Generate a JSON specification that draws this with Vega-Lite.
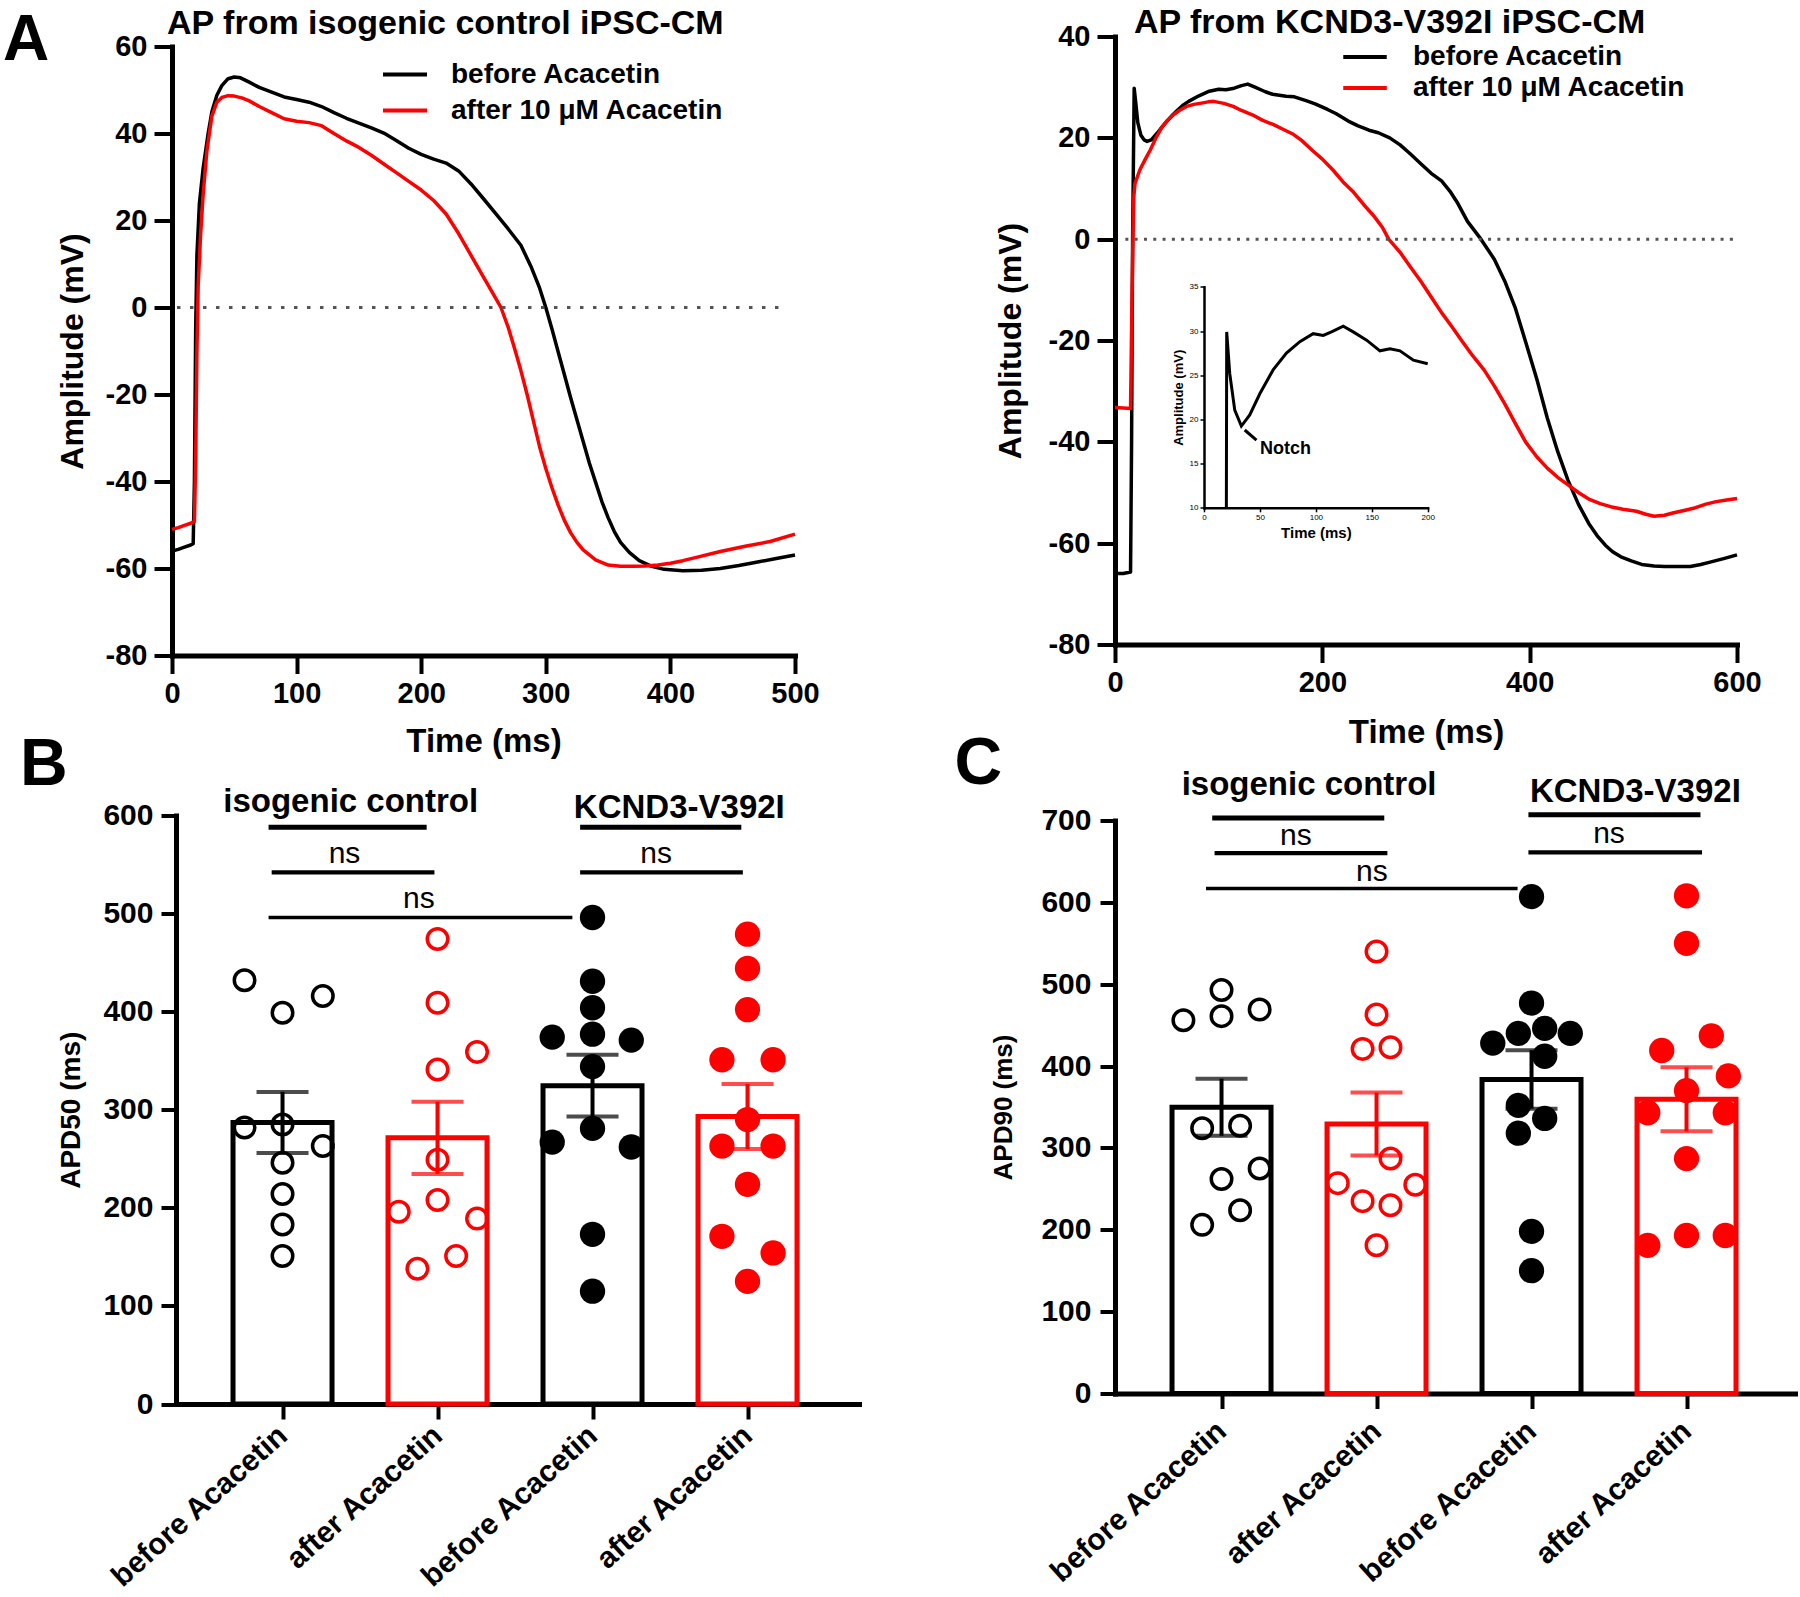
{
  "$schema": "https://vega.github.io/schema/vega-lite/v6.json",
  "background": "white",
  "padding": {"left": 3, "top": 5.5, "right": 0, "bottom": 0},
  "config": {
    "font": "Liberation Sans",
    "view": {"stroke": null},
    "axis": {"grid": false, "domainColor": "#000", "tickColor": "#000", "labelColor": "#000", "titleColor": "#000", "labelFontWeight": "bold", "titleFontWeight": "bold", "domainWidth": 5, "tickWidth": 4, "labelLimit": 400, "labelOverlap": false, "labelFlush": false, "labelBound": false, "domainCap": "square"},
    "legend": {"labelLimit": 500},
    "text": {"color": "#000"}
  },
  "resolve": {"scale": {"color": "independent", "stroke": "independent", "strokeWidth": "independent"}, "legend": {"color": "independent", "stroke": "independent", "strokeWidth": "independent"}},
  "datasets": {
    "apIso": [
      {"s":"before Acacetin","t":0,"v":-56},{"s":"before Acacetin","t":5,"v":-55.6},{"s":"before Acacetin","t":10,"v":-55.1},{"s":"before Acacetin","t":15,"v":-54.6},{"s":"before Acacetin","t":17,"v":-54.3},{"s":"before Acacetin","t":18,"v":-40},{"s":"before Acacetin","t":19,"v":-5},{"s":"before Acacetin","t":20,"v":12},{"s":"before Acacetin","t":22,"v":24},{"s":"before Acacetin","t":25,"v":32},{"s":"before Acacetin","t":29,"v":40},{"s":"before Acacetin","t":32,"v":45},{"s":"before Acacetin","t":36,"v":48.8},{"s":"before Acacetin","t":40,"v":51},{"s":"before Acacetin","t":45,"v":52.6},{"s":"before Acacetin","t":50,"v":53},{"s":"before Acacetin","t":55,"v":52.8},{"s":"before Acacetin","t":62,"v":51.8},{"s":"before Acacetin","t":70,"v":50.6},{"s":"before Acacetin","t":80,"v":49.5},{"s":"before Acacetin","t":90,"v":48.4},{"s":"before Acacetin","t":100,"v":47.8},{"s":"before Acacetin","t":110,"v":47.2},{"s":"before Acacetin","t":120,"v":46.2},{"s":"before Acacetin","t":130,"v":44.8},{"s":"before Acacetin","t":140,"v":43.5},{"s":"before Acacetin","t":150,"v":42.4},{"s":"before Acacetin","t":160,"v":41.3},{"s":"before Acacetin","t":170,"v":40.1},{"s":"before Acacetin","t":180,"v":38.4},{"s":"before Acacetin","t":190,"v":36.6},{"s":"before Acacetin","t":200,"v":35.2},{"s":"before Acacetin","t":210,"v":34.1},{"s":"before Acacetin","t":220,"v":33.2},{"s":"before Acacetin","t":230,"v":31.4},{"s":"before Acacetin","t":240,"v":28.4},{"s":"before Acacetin","t":250,"v":25},{"s":"before Acacetin","t":260,"v":21.5},{"s":"before Acacetin","t":270,"v":18},{"s":"before Acacetin","t":280,"v":14.3},{"s":"before Acacetin","t":288,"v":9.5},{"s":"before Acacetin","t":295,"v":4.5},{"s":"before Acacetin","t":300,"v":0},{"s":"before Acacetin","t":305,"v":-5},{"s":"before Acacetin","t":310,"v":-10.3},{"s":"before Acacetin","t":315,"v":-15.5},{"s":"before Acacetin","t":320,"v":-20.8},{"s":"before Acacetin","t":325,"v":-25.8},{"s":"before Acacetin","t":330,"v":-30.8},{"s":"before Acacetin","t":335,"v":-35.8},{"s":"before Acacetin","t":340,"v":-40.2},{"s":"before Acacetin","t":345,"v":-44.6},{"s":"before Acacetin","t":350,"v":-48.3},{"s":"before Acacetin","t":355,"v":-51.5},{"s":"before Acacetin","t":360,"v":-54},{"s":"before Acacetin","t":367,"v":-56.3},{"s":"before Acacetin","t":375,"v":-58.2},{"s":"before Acacetin","t":385,"v":-59.5},{"s":"before Acacetin","t":395,"v":-60.2},{"s":"before Acacetin","t":410,"v":-60.5},{"s":"before Acacetin","t":425,"v":-60.4},{"s":"before Acacetin","t":440,"v":-60},{"s":"before Acacetin","t":455,"v":-59.3},{"s":"before Acacetin","t":470,"v":-58.5},{"s":"before Acacetin","t":485,"v":-57.7},{"s":"before Acacetin","t":500,"v":-56.9},
      {"s":"after 10 μM Acacetin","t":0,"v":-51},{"s":"after 10 μM Acacetin","t":5,"v":-50.6},{"s":"after 10 μM Acacetin","t":10,"v":-50.1},{"s":"after 10 μM Acacetin","t":15,"v":-49.6},{"s":"after 10 μM Acacetin","t":18,"v":-49.2},{"s":"after 10 μM Acacetin","t":19,"v":-35},{"s":"after 10 μM Acacetin","t":20,"v":-10},{"s":"after 10 μM Acacetin","t":21,"v":5},{"s":"after 10 μM Acacetin","t":23,"v":17},{"s":"after 10 μM Acacetin","t":25,"v":26},{"s":"after 10 μM Acacetin","t":28,"v":36},{"s":"after 10 μM Acacetin","t":32,"v":44},{"s":"after 10 μM Acacetin","t":36,"v":47.2},{"s":"after 10 μM Acacetin","t":40,"v":48.3},{"s":"after 10 μM Acacetin","t":45,"v":48.7},{"s":"after 10 μM Acacetin","t":50,"v":48.6},{"s":"after 10 μM Acacetin","t":56,"v":48.2},{"s":"after 10 μM Acacetin","t":62,"v":47.5},{"s":"after 10 μM Acacetin","t":70,"v":46.2},{"s":"after 10 μM Acacetin","t":80,"v":44.8},{"s":"after 10 μM Acacetin","t":90,"v":43.4},{"s":"after 10 μM Acacetin","t":100,"v":42.8},{"s":"after 10 μM Acacetin","t":110,"v":42.5},{"s":"after 10 μM Acacetin","t":120,"v":41.8},{"s":"after 10 μM Acacetin","t":130,"v":40},{"s":"after 10 μM Acacetin","t":140,"v":38.3},{"s":"after 10 μM Acacetin","t":150,"v":36.8},{"s":"after 10 μM Acacetin","t":160,"v":35},{"s":"after 10 μM Acacetin","t":170,"v":33},{"s":"after 10 μM Acacetin","t":180,"v":31},{"s":"after 10 μM Acacetin","t":190,"v":29},{"s":"after 10 μM Acacetin","t":200,"v":27},{"s":"after 10 μM Acacetin","t":210,"v":24.6},{"s":"after 10 μM Acacetin","t":220,"v":21.5},{"s":"after 10 μM Acacetin","t":230,"v":17},{"s":"after 10 μM Acacetin","t":240,"v":12},{"s":"after 10 μM Acacetin","t":250,"v":7},{"s":"after 10 μM Acacetin","t":258,"v":3},{"s":"after 10 μM Acacetin","t":264,"v":0},{"s":"after 10 μM Acacetin","t":270,"v":-4.7},{"s":"after 10 μM Acacetin","t":275,"v":-9.5},{"s":"after 10 μM Acacetin","t":280,"v":-14.5},{"s":"after 10 μM Acacetin","t":285,"v":-20},{"s":"after 10 μM Acacetin","t":290,"v":-26},{"s":"after 10 μM Acacetin","t":295,"v":-32},{"s":"after 10 μM Acacetin","t":300,"v":-37},{"s":"after 10 μM Acacetin","t":305,"v":-41.5},{"s":"after 10 μM Acacetin","t":310,"v":-45.5},{"s":"after 10 μM Acacetin","t":315,"v":-49},{"s":"after 10 μM Acacetin","t":320,"v":-51.8},{"s":"after 10 μM Acacetin","t":325,"v":-54},{"s":"after 10 μM Acacetin","t":330,"v":-55.7},{"s":"after 10 μM Acacetin","t":340,"v":-58},{"s":"after 10 μM Acacetin","t":350,"v":-59.2},{"s":"after 10 μM Acacetin","t":360,"v":-59.5},{"s":"after 10 μM Acacetin","t":370,"v":-59.5},{"s":"after 10 μM Acacetin","t":380,"v":-59.4},{"s":"after 10 μM Acacetin","t":390,"v":-59.2},{"s":"after 10 μM Acacetin","t":400,"v":-58.8},{"s":"after 10 μM Acacetin","t":410,"v":-58.2},{"s":"after 10 μM Acacetin","t":420,"v":-57.5},{"s":"after 10 μM Acacetin","t":440,"v":-56.1},{"s":"after 10 μM Acacetin","t":460,"v":-54.9},{"s":"after 10 μM Acacetin","t":480,"v":-53.8},{"s":"after 10 μM Acacetin","t":500,"v":-52.1}
    ],
    "apKcnd": [
      {"s":"before Acacetin","t":0,"v":-66},{"s":"before Acacetin","t":8,"v":-66},{"s":"before Acacetin","t":15,"v":-65.7},{"s":"before Acacetin","t":16,"v":-40},{"s":"before Acacetin","t":17,"v":0},{"s":"before Acacetin","t":18.5,"v":29.8},{"s":"before Acacetin","t":20,"v":27},{"s":"before Acacetin","t":22,"v":23},{"s":"before Acacetin","t":25,"v":20.5},{"s":"before Acacetin","t":28,"v":19.6},{"s":"before Acacetin","t":31,"v":19.3},{"s":"before Acacetin","t":35,"v":19.6},{"s":"before Acacetin","t":41,"v":21},{"s":"before Acacetin","t":46,"v":22.3},{"s":"before Acacetin","t":51,"v":23.5},{"s":"before Acacetin","t":56,"v":24.6},{"s":"before Acacetin","t":61,"v":25.6},{"s":"before Acacetin","t":66,"v":26.5},{"s":"before Acacetin","t":71,"v":27.2},{"s":"before Acacetin","t":81,"v":28.3},{"s":"before Acacetin","t":91,"v":29.2},{"s":"before Acacetin","t":100,"v":29.6},{"s":"before Acacetin","t":107,"v":29.5},{"s":"before Acacetin","t":115,"v":29.8},{"s":"before Acacetin","t":122,"v":30.3},{"s":"before Acacetin","t":128,"v":30.6},{"s":"before Acacetin","t":135,"v":30},{"s":"before Acacetin","t":145,"v":29.1},{"s":"before Acacetin","t":152,"v":28.6},{"s":"before Acacetin","t":165,"v":28.2},{"s":"before Acacetin","t":173,"v":28.1},{"s":"before Acacetin","t":185,"v":27.3},{"s":"before Acacetin","t":193,"v":26.7},{"s":"before Acacetin","t":205,"v":25.6},{"s":"before Acacetin","t":213,"v":24.8},{"s":"before Acacetin","t":225,"v":23.3},{"s":"before Acacetin","t":234,"v":22.4},{"s":"before Acacetin","t":245,"v":21.5},{"s":"before Acacetin","t":254,"v":21},{"s":"before Acacetin","t":265,"v":20},{"s":"before Acacetin","t":275,"v":18.6},{"s":"before Acacetin","t":285,"v":16.8},{"s":"before Acacetin","t":295,"v":14.9},{"s":"before Acacetin","t":305,"v":13},{"s":"before Acacetin","t":315,"v":11.5},{"s":"before Acacetin","t":323,"v":9.5},{"s":"before Acacetin","t":330,"v":7.3},{"s":"before Acacetin","t":340,"v":3.5},{"s":"before Acacetin","t":353,"v":0},{"s":"before Acacetin","t":366,"v":-4},{"s":"before Acacetin","t":376,"v":-8.3},{"s":"before Acacetin","t":386,"v":-13.5},{"s":"before Acacetin","t":396,"v":-20.2},{"s":"before Acacetin","t":407,"v":-27.7},{"s":"before Acacetin","t":417,"v":-35.3},{"s":"before Acacetin","t":427,"v":-41.9},{"s":"before Acacetin","t":437,"v":-47.6},{"s":"before Acacetin","t":447,"v":-52.3},{"s":"before Acacetin","t":457,"v":-56.1},{"s":"before Acacetin","t":465,"v":-58.5},{"s":"before Acacetin","t":473,"v":-60.4},{"s":"before Acacetin","t":480,"v":-61.7},{"s":"before Acacetin","t":488,"v":-62.7},{"s":"before Acacetin","t":498,"v":-63.5},{"s":"before Acacetin","t":508,"v":-64.2},{"s":"before Acacetin","t":520,"v":-64.5},{"s":"before Acacetin","t":530,"v":-64.6},{"s":"before Acacetin","t":545,"v":-64.6},{"s":"before Acacetin","t":555,"v":-64.6},{"s":"before Acacetin","t":565,"v":-64.2},{"s":"before Acacetin","t":575,"v":-63.7},{"s":"before Acacetin","t":588,"v":-63},{"s":"before Acacetin","t":600,"v":-62.3},
      {"s":"after 10 μM Acacetin","t":0,"v":-33.2},{"s":"after 10 μM Acacetin","t":8,"v":-33.3},{"s":"after 10 μM Acacetin","t":15,"v":-33.4},{"s":"after 10 μM Acacetin","t":16.5,"v":-10},{"s":"after 10 μM Acacetin","t":18,"v":8},{"s":"after 10 μM Acacetin","t":19.3,"v":11},{"s":"after 10 μM Acacetin","t":24,"v":13.7},{"s":"after 10 μM Acacetin","t":29,"v":15.7},{"s":"after 10 μM Acacetin","t":34,"v":17.6},{"s":"after 10 μM Acacetin","t":40,"v":20.2},{"s":"after 10 μM Acacetin","t":45,"v":22},{"s":"after 10 μM Acacetin","t":50,"v":23.3},{"s":"after 10 μM Acacetin","t":56,"v":24.5},{"s":"after 10 μM Acacetin","t":62,"v":25.4},{"s":"after 10 μM Acacetin","t":69,"v":26.2},{"s":"after 10 μM Acacetin","t":76,"v":26.6},{"s":"after 10 μM Acacetin","t":82,"v":26.8},{"s":"after 10 μM Acacetin","t":90,"v":27.1},{"s":"after 10 μM Acacetin","t":95,"v":27.2},{"s":"after 10 μM Acacetin","t":105,"v":26.8},{"s":"after 10 μM Acacetin","t":114,"v":26.2},{"s":"after 10 μM Acacetin","t":122,"v":25.4},{"s":"after 10 μM Acacetin","t":133,"v":24.5},{"s":"after 10 μM Acacetin","t":142,"v":23.5},{"s":"after 10 μM Acacetin","t":153,"v":22.6},{"s":"after 10 μM Acacetin","t":163,"v":21.6},{"s":"after 10 μM Acacetin","t":172,"v":20.7},{"s":"after 10 μM Acacetin","t":180,"v":19.5},{"s":"after 10 μM Acacetin","t":191,"v":17.4},{"s":"after 10 μM Acacetin","t":200,"v":15.8},{"s":"after 10 μM Acacetin","t":210,"v":13.7},{"s":"after 10 μM Acacetin","t":220,"v":11.3},{"s":"after 10 μM Acacetin","t":230,"v":9.3},{"s":"after 10 μM Acacetin","t":240,"v":6.8},{"s":"after 10 μM Acacetin","t":250,"v":4.5},{"s":"after 10 μM Acacetin","t":258,"v":2.3},{"s":"after 10 μM Acacetin","t":264,"v":0},{"s":"after 10 μM Acacetin","t":275,"v":-2.6},{"s":"after 10 μM Acacetin","t":285,"v":-5.5},{"s":"after 10 μM Acacetin","t":295,"v":-8.3},{"s":"after 10 μM Acacetin","t":305,"v":-11.4},{"s":"after 10 μM Acacetin","t":315,"v":-14.5},{"s":"after 10 μM Acacetin","t":325,"v":-17.3},{"s":"after 10 μM Acacetin","t":335,"v":-20.2},{"s":"after 10 μM Acacetin","t":345,"v":-23},{"s":"after 10 μM Acacetin","t":356,"v":-25.8},{"s":"after 10 μM Acacetin","t":366,"v":-29},{"s":"after 10 μM Acacetin","t":376,"v":-32.5},{"s":"after 10 μM Acacetin","t":386,"v":-36.3},{"s":"after 10 μM Acacetin","t":396,"v":-40},{"s":"after 10 μM Acacetin","t":407,"v":-43},{"s":"after 10 μM Acacetin","t":417,"v":-45.2},{"s":"after 10 μM Acacetin","t":427,"v":-47},{"s":"after 10 μM Acacetin","t":437,"v":-48.5},{"s":"after 10 μM Acacetin","t":447,"v":-50},{"s":"after 10 μM Acacetin","t":457,"v":-51.3},{"s":"after 10 μM Acacetin","t":468,"v":-52.2},{"s":"after 10 μM Acacetin","t":478,"v":-52.8},{"s":"after 10 μM Acacetin","t":490,"v":-53.3},{"s":"after 10 μM Acacetin","t":503,"v":-53.7},{"s":"after 10 μM Acacetin","t":512,"v":-54.3},{"s":"after 10 μM Acacetin","t":520,"v":-54.7},{"s":"after 10 μM Acacetin","t":530,"v":-54.5},{"s":"after 10 μM Acacetin","t":539,"v":-54},{"s":"after 10 μM Acacetin","t":550,"v":-53.5},{"s":"after 10 μM Acacetin","t":560,"v":-53},{"s":"after 10 μM Acacetin","t":570,"v":-52.3},{"s":"after 10 μM Acacetin","t":580,"v":-51.8},{"s":"after 10 μM Acacetin","t":590,"v":-51.5},{"s":"after 10 μM Acacetin","t":600,"v":-51.2}
    ],
    "inset": [
      {"t":20,"v":10},{"t":20.3,"v":29.9},{"t":23,"v":25.2},{"t":27.5,"v":21.05},{"t":33.4,"v":19.24},{"t":40.9,"v":20.5},{"t":49.9,"v":22.9},{"t":61.8,"v":25.6},{"t":73.7,"v":27.5},{"t":85.7,"v":28.8},{"t":97.6,"v":29.7},{"t":106.6,"v":29.5},{"t":114,"v":29.9},{"t":124.5,"v":30.55},{"t":133.4,"v":29.9},{"t":145.4,"v":28.97},{"t":157.3,"v":27.76},{"t":166.3,"v":28.0},{"t":175.2,"v":27.76},{"t":187.2,"v":26.7},{"t":200,"v":26.3}
    ],
    "apd50": [
      {"g":1,"c":"before","k":"iso","xp":0.755,"v":432},{"g":1,"c":"before","k":"iso","xp":1.0,"v":399},{"g":1,"c":"before","k":"iso","xp":1.26,"v":416},{"g":1,"c":"before","k":"iso","xp":0.755,"v":282},{"g":1,"c":"before","k":"iso","xp":1.0,"v":285},{"g":1,"c":"before","k":"iso","xp":1.26,"v":263},{"g":1,"c":"before","k":"iso","xp":1.0,"v":246},{"g":1,"c":"before","k":"iso","xp":1.0,"v":214},{"g":1,"c":"before","k":"iso","xp":1.0,"v":183},{"g":1,"c":"before","k":"iso","xp":1.0,"v":151},
      {"g":2,"c":"after","k":"iso","xp":2.0,"v":474},{"g":2,"c":"after","k":"iso","xp":2.0,"v":409},{"g":2,"c":"after","k":"iso","xp":2.255,"v":359},{"g":2,"c":"after","k":"iso","xp":2.0,"v":341},{"g":2,"c":"after","k":"iso","xp":2.0,"v":249},{"g":2,"c":"after","k":"iso","xp":2.0,"v":208},{"g":2,"c":"after","k":"iso","xp":1.75,"v":196},{"g":2,"c":"after","k":"iso","xp":2.255,"v":189},{"g":2,"c":"after","k":"iso","xp":2.12,"v":151},{"g":2,"c":"after","k":"iso","xp":1.87,"v":138},
      {"g":3,"c":"before","k":"kcnd","xp":3.0,"v":496},{"g":3,"c":"before","k":"kcnd","xp":3.0,"v":431},{"g":3,"c":"before","k":"kcnd","xp":3.0,"v":404},{"g":3,"c":"before","k":"kcnd","xp":2.74,"v":374},{"g":3,"c":"before","k":"kcnd","xp":3.0,"v":377},{"g":3,"c":"before","k":"kcnd","xp":3.25,"v":371},{"g":3,"c":"before","k":"kcnd","xp":3.0,"v":344},{"g":3,"c":"before","k":"kcnd","xp":3.0,"v":281},{"g":3,"c":"before","k":"kcnd","xp":2.74,"v":267},{"g":3,"c":"before","k":"kcnd","xp":3.25,"v":262},{"g":3,"c":"before","k":"kcnd","xp":3.0,"v":173},{"g":3,"c":"before","k":"kcnd","xp":3.0,"v":115},
      {"g":4,"c":"after","k":"kcnd","xp":4.0,"v":479},{"g":4,"c":"after","k":"kcnd","xp":4.0,"v":444},{"g":4,"c":"after","k":"kcnd","xp":4.0,"v":402},{"g":4,"c":"after","k":"kcnd","xp":3.835,"v":351},{"g":4,"c":"after","k":"kcnd","xp":4.165,"v":351},{"g":4,"c":"after","k":"kcnd","xp":4.0,"v":290},{"g":4,"c":"after","k":"kcnd","xp":3.835,"v":263},{"g":4,"c":"after","k":"kcnd","xp":4.165,"v":263},{"g":4,"c":"after","k":"kcnd","xp":4.0,"v":224},{"g":4,"c":"after","k":"kcnd","xp":3.835,"v":171},{"g":4,"c":"after","k":"kcnd","xp":4.165,"v":154},{"g":4,"c":"after","k":"kcnd","xp":4.0,"v":125}
    ],
    "apd90": [
      {"g":1,"c":"before","k":"iso","xp":0.754,"v":456},{"g":1,"c":"before","k":"iso","xp":1.0,"v":493},{"g":1,"c":"before","k":"iso","xp":1.0,"v":461},{"g":1,"c":"before","k":"iso","xp":1.246,"v":469},{"g":1,"c":"before","k":"iso","xp":0.875,"v":324},{"g":1,"c":"before","k":"iso","xp":1.12,"v":327},{"g":1,"c":"before","k":"iso","xp":1.246,"v":275},{"g":1,"c":"before","k":"iso","xp":1.0,"v":262},{"g":1,"c":"before","k":"iso","xp":1.12,"v":224},{"g":1,"c":"before","k":"iso","xp":0.875,"v":206},
      {"g":2,"c":"after","k":"iso","xp":2.0,"v":540},{"g":2,"c":"after","k":"iso","xp":2.0,"v":463},{"g":2,"c":"after","k":"iso","xp":1.91,"v":421},{"g":2,"c":"after","k":"iso","xp":2.09,"v":423},{"g":2,"c":"after","k":"iso","xp":2.09,"v":287},{"g":2,"c":"after","k":"iso","xp":1.75,"v":257},{"g":2,"c":"after","k":"iso","xp":2.25,"v":255},{"g":2,"c":"after","k":"iso","xp":1.91,"v":235},{"g":2,"c":"after","k":"iso","xp":2.09,"v":230},{"g":2,"c":"after","k":"iso","xp":2.0,"v":181},
      {"g":3,"c":"before","k":"kcnd","xp":3.0,"v":607},{"g":3,"c":"before","k":"kcnd","xp":3.0,"v":477},{"g":3,"c":"before","k":"kcnd","xp":2.75,"v":428},{"g":3,"c":"before","k":"kcnd","xp":2.915,"v":440},{"g":3,"c":"before","k":"kcnd","xp":3.085,"v":446},{"g":3,"c":"before","k":"kcnd","xp":3.25,"v":440},{"g":3,"c":"before","k":"kcnd","xp":3.085,"v":412},{"g":3,"c":"before","k":"kcnd","xp":2.915,"v":352},{"g":3,"c":"before","k":"kcnd","xp":3.085,"v":336},{"g":3,"c":"before","k":"kcnd","xp":2.915,"v":318},{"g":3,"c":"before","k":"kcnd","xp":3.0,"v":198},{"g":3,"c":"before","k":"kcnd","xp":3.0,"v":150},
      {"g":4,"c":"after","k":"kcnd","xp":4.0,"v":608},{"g":4,"c":"after","k":"kcnd","xp":4.0,"v":550},{"g":4,"c":"after","k":"kcnd","xp":4.16,"v":437},{"g":4,"c":"after","k":"kcnd","xp":3.84,"v":419},{"g":4,"c":"after","k":"kcnd","xp":4.27,"v":388},{"g":4,"c":"after","k":"kcnd","xp":4.0,"v":370},{"g":4,"c":"after","k":"kcnd","xp":3.75,"v":343},{"g":4,"c":"after","k":"kcnd","xp":4.25,"v":343},{"g":4,"c":"after","k":"kcnd","xp":4.0,"v":287},{"g":4,"c":"after","k":"kcnd","xp":3.75,"v":181},{"g":4,"c":"after","k":"kcnd","xp":4.0,"v":193},{"g":4,"c":"after","k":"kcnd","xp":4.25,"v":193}
    ],
    "ann50": [
      {"type":"line","kind":"group","x1":0.91,"x2":1.93,"y":588},
      {"type":"line","kind":"pair","x1":0.93,"x2":1.98,"y":542},
      {"type":"line","kind":"cross","x1":0.91,"x2":2.87,"y":496},
      {"type":"line","kind":"group","x1":2.92,"x2":3.96,"y":588},
      {"type":"line","kind":"pair","x1":2.92,"x2":3.97,"y":542},
      {"type":"ns","label":"ns","x1":1.40,"y":561},
      {"type":"ns","label":"ns","x1":1.88,"y":515},
      {"type":"ns","label":"ns","x1":3.41,"y":561},
      {"type":"group","label":"isogenic control","x1":1.44,"y":614},
      {"type":"group","label":"KCND3-V392I","x1":3.56,"y":608}
    ],
    "ann90": [
      {"type":"line","kind":"group","x1":0.94,"x2":2.05,"y":703},
      {"type":"line","kind":"pair","x1":0.955,"x2":2.07,"y":660},
      {"type":"line","kind":"cross","x1":0.90,"x2":2.91,"y":617},
      {"type":"line","kind":"group","x1":2.98,"x2":4.09,"y":707},
      {"type":"line","kind":"pair","x1":2.98,"x2":4.10,"y":661},
      {"type":"ns","label":"ns","x1":1.48,"y":681},
      {"type":"ns","label":"ns","x1":1.97,"y":637},
      {"type":"ns","label":"ns","x1":3.5,"y":683},
      {"type":"group","label":"isogenic control","x1":1.565,"y":743},
      {"type":"group","label":"KCND3-V392I","x1":3.67,"y":735}
    ]
  },
  "columns": 2,
  "spacing": {"row": 160, "column": 256},
  "bounds": "flush",
  "align": "all",
  "concat": [
    {
      "width": 623, "height": 619,
      "layer": [
        {"data": {"name": "apIso"},
         "mark": {"type": "line", "strokeWidth": 3.5, "strokeJoin": "round"},
         "encoding": {
           "x": {"field": "t", "type": "quantitative", "scale": {"domain": [0, 500], "nice": false, "zero": false},
                 "axis": {"values": [0,100,200,300,400,500], "title": "Time (ms)", "labelFontSize": 29, "titleFontSize": 33, "tickSize": 18, "labelPadding": 6, "titlePadding": 17}},
           "y": {"field": "v", "type": "quantitative", "scale": {"domain": [-80, 60], "range": [619, 10], "nice": false, "zero": false},
                 "axis": {"values": [-80,-60,-40,-20,0,20,40,60], "labelExpr": "'' + datum.value", "title": "Amplitude (mV)", "labelFontSize": 29, "titleFontSize": 32, "tickSize": 18, "labelPadding": 7, "titlePadding": 16}},
           "color": {"field": "s", "type": "nominal", "sort": null,
                     "scale": {"domain": ["before Acacetin", "after 10 μM Acacetin"], "range": ["#000000", "#ff0000"]},
                     "legend": {"orient": "none", "legendX": 209, "legendY": 20, "title": null, "symbolType": "stroke", "symbolSize": 1936, "symbolStrokeWidth": 4, "labelFontSize": 28, "labelFontWeight": "bold", "labelOffset": 22, "clipHeight": 36, "rowPadding": 0, "padding": 0, "labelColor": "#000"}}
         }},
        {"data": {"values": [{}]},
         "mark": {"type": "rule", "strokeDash": [3.5, 9.5], "strokeWidth": 3, "color": "#555555"},
         "encoding": {"x": {"datum": 4}, "x2": {"datum": 493}, "y": {"datum": 0}}},
        {"data": {"values": [{}]},
         "mark": {"type": "text", "text": "A", "fontSize": 64, "fontWeight": "bold", "align": "left", "baseline": "alphabetic"},
         "encoding": {"x": {"datum": -135.6}, "y": {"datum": 57.0}}},
        {"data": {"values": [{}]},
         "mark": {"type": "text", "text": "AP from isogenic control iPSC-CM", "fontSize": 34, "fontWeight": "bold", "align": "left", "baseline": "middle"},
         "encoding": {"x": {"datum": -4}, "y": {"datum": 65.2}}}
      ]
    },
    {
      "width": 622, "height": 608,
      "layer": [
        {"layer": [
          {"data": {"name": "apKcnd"},
           "mark": {"type": "line", "strokeWidth": 3.5, "strokeJoin": "round"},
           "encoding": {
             "x": {"field": "t", "type": "quantitative", "scale": {"domain": [0, 600], "nice": false, "zero": false},
                   "axis": {"values": [0,200,400,600], "title": "Time (ms)", "labelFontSize": 29, "titleFontSize": 33, "tickSize": 18, "labelPadding": 6, "titlePadding": 19}},
             "y": {"field": "v", "type": "quantitative", "scale": {"domain": [-80, 40], "nice": false, "zero": false},
                   "axis": {"values": [-80,-60,-40,-20,0,20,40], "labelExpr": "'' + datum.value", "title": "Amplitude (mV)", "labelFontSize": 29, "titleFontSize": 32, "tickSize": 18, "labelPadding": 7, "titlePadding": 21}},
             "color": {"field": "s", "type": "nominal", "sort": null,
                       "scale": {"domain": ["before Acacetin", "after 10 μM Acacetin"], "range": ["#000000", "#ff0000"]},
                       "legend": {"orient": "none", "legendX": 226, "legendY": 5, "title": null, "symbolType": "stroke", "symbolSize": 1892, "symbolStrokeWidth": 4, "labelFontSize": 28, "labelFontWeight": "bold", "labelOffset": 24, "clipHeight": 31, "rowPadding": 0, "padding": 0, "labelColor": "#000"}}
           }},
          {"data": {"values": [{}]},
           "mark": {"type": "rule", "strokeDash": [3, 6.3], "strokeWidth": 3, "color": "#555555"},
           "encoding": {"x": {"datum": 10}, "x2": {"datum": 600}, "y": {"datum": 0}}},
          {"data": {"values": [{}]},
           "mark": {"type": "text", "text": "AP from KCND3-V392I iPSC-CM", "fontSize": 34, "fontWeight": "bold", "align": "left", "baseline": "middle"},
           "encoding": {"x": {"datum": 18.3}, "y": {"datum": 42.6}}}
        ]},
        {"layer": [
          {"data": {"name": "inset"},
           "mark": {"type": "line", "strokeWidth": 3, "color": "#000000"},
           "encoding": {
             "x": {"field": "t", "type": "quantitative", "scale": {"domain": [0, 200], "range": [89, 312.7], "nice": false, "zero": false},
                   "axis": {"orient": "bottom", "offset": -136.7, "values": [0,50,100,150,200], "title": "Time (ms)", "titleFontSize": 15, "labelFontSize": 8, "labelFontWeight": "normal", "tickSize": 4, "tickWidth": 1.5, "domainWidth": 2.5, "labelPadding": 2, "titlePadding": 4}},
             "y": {"field": "v", "type": "quantitative", "scale": {"domain": [10, 35], "range": [471.3, 250.3], "nice": false, "zero": false},
                   "axis": {"orient": "left", "offset": -89, "values": [10,15,20,25,30,35], "title": "Amplitude (mV)", "titleFontSize": 13, "labelFontSize": 8, "labelFontWeight": "normal", "tickSize": 4, "tickWidth": 1.5, "domainWidth": 2.5, "labelPadding": 2, "titlePadding": 4}}
           }},
          {"data": {"values": [{}]},
           "mark": {"type": "rule", "strokeWidth": 3, "color": "#000000"},
           "encoding": {"x": {"datum": 36.4}, "x2": {"datum": 46.9}, "y": {"datum": 18.8}, "y2": {"datum": 17.66}}},
          {"data": {"values": [{}]},
           "mark": {"type": "text", "text": "Notch", "fontSize": 18, "fontWeight": "bold", "align": "left", "baseline": "middle"},
           "encoding": {"x": {"datum": 50}, "y": {"datum": 16.7}}}
        ]}
      ],
      "resolve": {"scale": {"x": "independent", "y": "independent"}, "axis": {"x": "independent", "y": "independent"}}
    },
    {
      "width": 687, "height": 588.5,
      "layer": [
        {"data": {"name": "apd50"},
         "mark": {"type": "bar", "width": 99, "fill": "#ffffff", "strokeWidth": 5},
         "encoding": {
           "x": {"field": "g", "type": "quantitative", "title": null, "scale": {"domain": [0.345, 4.687], "range": [4, 687], "nice": false, "zero": false},
                 "axis": {"values": [1,2,3,4], "labelExpr": "datum.value == 1 || datum.value == 3 ? 'before Acacetin' : 'after Acacetin'", "title": null, "labelAngle": -42, "labelAlign": "right", "labelBaseline": "middle", "labelFontSize": 30, "tickSize": 15, "labelPadding": 12}},
           "y": {"aggregate": "mean", "field": "v", "type": "quantitative", "title": "APD50 (ms)", "scale": {"domain": [0, 600], "range": [588.5, 0], "nice": false},
                 "axis": {"values": [0,100,200,300,400,500,600], "title": "APD50 (ms)", "titleFontSize": 28, "labelFontSize": 30, "tickSize": 15, "labelPadding": 8, "titlePadding": 17, "offset": -4}},
           "stroke": {"field": "c", "type": "nominal", "scale": {"domain": ["before", "after"], "range": ["#000000", "#ff0000"]}, "legend": null}
         }},
        {"data": {"name": "apd50"}, "transform": [{"filter": "datum.k == 'iso'"}],
         "mark": {"type": "point", "shape": "circle", "filled": false, "size": 420, "strokeWidth": 3.5, "opacity": 1},
         "encoding": {
           "x": {"field": "xp", "type": "quantitative", "title": null},
           "y": {"field": "v", "type": "quantitative", "title": "APD50 (ms)"},
           "color": {"field": "c", "type": "nominal", "scale": {"domain": ["before", "after"], "range": ["#000000", "#ff0000"]}, "legend": null}
         }},
        {"data": {"name": "apd50"}, "transform": [{"filter": "datum.k == 'kcnd'"}],
         "mark": {"type": "point", "shape": "circle", "filled": true, "size": 640, "opacity": 1},
         "encoding": {
           "x": {"field": "xp", "type": "quantitative", "title": null},
           "y": {"field": "v", "type": "quantitative", "title": "APD50 (ms)"},
           "color": {"field": "c", "type": "nominal", "scale": {"domain": ["before", "after"], "range": ["#000000", "#ff0000"]}, "legend": null}
         }},
        {"data": {"name": "apd50"},
         "mark": {"type": "errorbar", "extent": "stderr", "orient": "vertical", "ticks": {"size": 52, "thickness": 4}, "rule": {"strokeWidth": 4}},
         "encoding": {
           "x": {"field": "g", "type": "quantitative", "title": null},
           "y": {"field": "v", "type": "quantitative", "title": "APD50 (ms)"},
           "color": {"field": "c", "type": "nominal", "scale": {"domain": ["before", "after"], "range": ["#000000", "#ff0000"]}, "legend": null}
         }},
        {"data": {"name": "ann50"}, "transform": [{"filter": "datum.type == 'line'"}],
         "mark": {"type": "rule", "color": "#000000"},
         "encoding": {
           "x": {"field": "x1", "type": "quantitative", "title": null},
           "x2": {"field": "x2"},
           "y": {"field": "y", "type": "quantitative", "title": "APD50 (ms)"},
           "strokeWidth": {"field": "kind", "type": "ordinal", "scale": {"domain": ["group", "pair", "cross"], "range": [5, 3.5, 2.5]}, "legend": null}
         }},
        {"data": {"name": "ann50"}, "transform": [{"filter": "datum.type == 'ns'"}],
         "mark": {"type": "text", "fontSize": 30, "fontWeight": "normal", "align": "center", "baseline": "middle"},
         "encoding": {
           "x": {"field": "x1", "type": "quantitative", "title": null},
           "y": {"field": "y", "type": "quantitative", "title": "APD50 (ms)"},
           "text": {"field": "label"}
         }},
        {"data": {"name": "ann50"}, "transform": [{"filter": "datum.type == 'group'"}],
         "mark": {"type": "text", "fontSize": 33, "fontWeight": "bold", "align": "center", "baseline": "middle"},
         "encoding": {
           "x": {"field": "x1", "type": "quantitative", "title": null},
           "y": {"field": "y", "type": "quantitative", "title": "APD50 (ms)"},
           "text": {"field": "label"}
         }},
        {"data": {"values": [{}]},
         "mark": {"type": "text", "text": "B", "fontSize": 66, "fontWeight": "bold", "align": "left", "baseline": "alphabetic"},
         "encoding": {"x": {"datum": -0.694, "title": null}, "y": {"datum": 631, "title": "APD50 (ms)"}}}
      ]
    },
    {
      "width": 683, "height": 578,
      "layer": [
        {"data": {"name": "apd90"},
         "mark": {"type": "bar", "width": 99, "fill": "#ffffff", "strokeWidth": 5},
         "encoding": {
           "x": {"field": "g", "type": "quantitative", "title": null, "scale": {"domain": [0.345, 4.687], "range": [0, 683], "nice": false, "zero": false},
                 "axis": {"values": [1,2,3,4], "labelExpr": "datum.value == 1 || datum.value == 3 ? 'before Acacetin' : 'after Acacetin'", "title": null, "labelAngle": -42, "labelAlign": "right", "labelBaseline": "middle", "labelFontSize": 30, "tickSize": 15, "labelPadding": 18}},
           "y": {"aggregate": "mean", "field": "v", "type": "quantitative", "title": "APD90 (ms)", "scale": {"domain": [0, 700], "range": [578, 5], "nice": false},
                 "axis": {"values": [0,100,200,300,400,500,600,700], "title": "APD90 (ms)", "titleFontSize": 26, "labelFontSize": 30, "tickSize": 15, "labelPadding": 9, "titlePadding": 24}},
           "stroke": {"field": "c", "type": "nominal", "scale": {"domain": ["before", "after"], "range": ["#000000", "#ff0000"]}, "legend": null}
         }},
        {"data": {"name": "apd90"}, "transform": [{"filter": "datum.k == 'iso'"}],
         "mark": {"type": "point", "shape": "circle", "filled": false, "size": 420, "strokeWidth": 3.5, "opacity": 1},
         "encoding": {
           "x": {"field": "xp", "type": "quantitative", "title": null},
           "y": {"field": "v", "type": "quantitative", "title": "APD90 (ms)"},
           "color": {"field": "c", "type": "nominal", "scale": {"domain": ["before", "after"], "range": ["#000000", "#ff0000"]}, "legend": null}
         }},
        {"data": {"name": "apd90"}, "transform": [{"filter": "datum.k == 'kcnd'"}],
         "mark": {"type": "point", "shape": "circle", "filled": true, "size": 640, "opacity": 1},
         "encoding": {
           "x": {"field": "xp", "type": "quantitative", "title": null},
           "y": {"field": "v", "type": "quantitative", "title": "APD90 (ms)"},
           "color": {"field": "c", "type": "nominal", "scale": {"domain": ["before", "after"], "range": ["#000000", "#ff0000"]}, "legend": null}
         }},
        {"data": {"name": "apd90"},
         "mark": {"type": "errorbar", "extent": "stderr", "orient": "vertical", "ticks": {"size": 52, "thickness": 4}, "rule": {"strokeWidth": 4}},
         "encoding": {
           "x": {"field": "g", "type": "quantitative", "title": null},
           "y": {"field": "v", "type": "quantitative", "title": "APD90 (ms)"},
           "color": {"field": "c", "type": "nominal", "scale": {"domain": ["before", "after"], "range": ["#000000", "#ff0000"]}, "legend": null}
         }},
        {"data": {"name": "ann90"}, "transform": [{"filter": "datum.type == 'line'"}],
         "mark": {"type": "rule", "color": "#000000"},
         "encoding": {
           "x": {"field": "x1", "type": "quantitative", "title": null},
           "x2": {"field": "x2"},
           "y": {"field": "y", "type": "quantitative", "title": "APD90 (ms)"},
           "strokeWidth": {"field": "kind", "type": "ordinal", "scale": {"domain": ["group", "pair", "cross"], "range": [5, 3.5, 3]}, "legend": null}
         }},
        {"data": {"name": "ann90"}, "transform": [{"filter": "datum.type == 'ns'"}],
         "mark": {"type": "text", "fontSize": 30, "fontWeight": "normal", "align": "center", "baseline": "middle"},
         "encoding": {
           "x": {"field": "x1", "type": "quantitative", "title": null},
           "y": {"field": "y", "type": "quantitative", "title": "APD90 (ms)"},
           "text": {"field": "label"}
         }},
        {"data": {"name": "ann90"}, "transform": [{"filter": "datum.type == 'group'"}],
         "mark": {"type": "text", "fontSize": 33, "fontWeight": "bold", "align": "center", "baseline": "middle"},
         "encoding": {
           "x": {"field": "x1", "type": "quantitative", "title": null},
           "y": {"field": "y", "type": "quantitative", "title": "APD90 (ms)"},
           "text": {"field": "label"}
         }},
        {"data": {"values": [{}]},
         "mark": {"type": "text", "text": "C", "fontSize": 66, "fontWeight": "bold", "align": "left", "baseline": "alphabetic"},
         "encoding": {"x": {"datum": -0.723, "title": null}, "y": {"datum": 744, "title": "APD90 (ms)"}}}
      ]
    }
  ]
}
